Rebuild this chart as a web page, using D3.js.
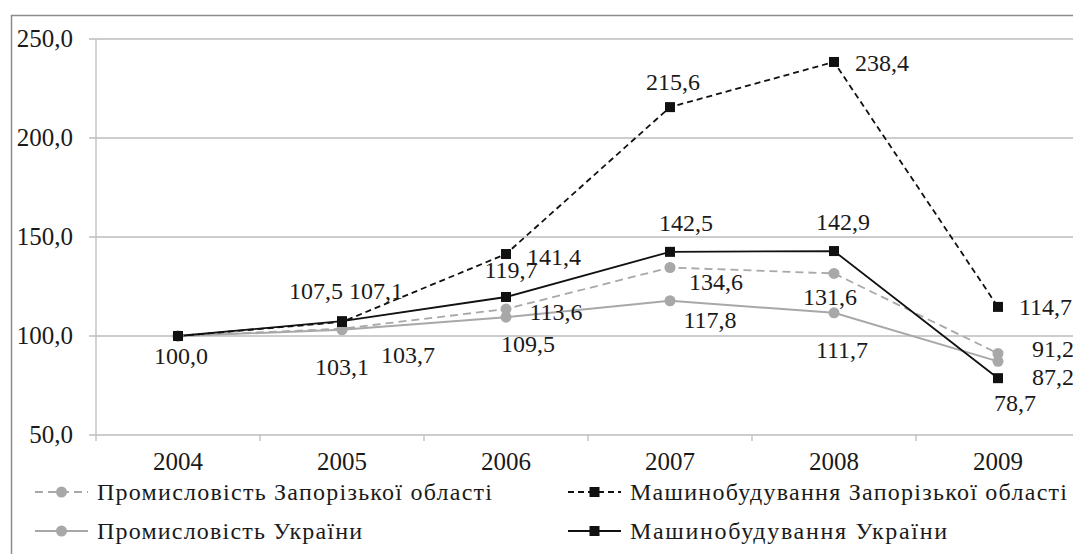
<!DOCTYPE html>
<html><head><meta charset="utf-8">
<script src="https://cdn.jsdelivr.net/npm/d3@7"></script>
</head>
<body style="margin:0"><svg id="c" width="1073" height="554" style="font-family:'Liberation Serif','Tinos','Times New Roman','Times'"></svg>
<script>
const years = ["2004","2005","2006","2007","2008","2009"];
const yTicks = [50,100,150,200,250];
const seriesNames = ["Промисловість Запорізької області","Машинобудування Запорізької області","Промисловість України","Машинобудування України"];
const indZap = [100.0,103.7,113.6,134.6,131.6,91.2];
const machZap = [100.0,107.1,141.4,215.6,238.4,114.7];
const indUkr = [100.0,103.1,109.5,117.8,111.7,87.2];
const machUkr = [100.0,107.5,119.7,142.5,142.9,78.7];

// label offsets (styling) [dx, dy, anchor]
const offIndZap = [null,[66,26,"middle"],[50,3,"middle"],[46,15,"middle"],[-4,24,"middle"],[34,-4,"start"]];
const offMachZap = [null,[34,-31,"middle"],[21,3,"start"],[3,-25,"middle"],[21,1,"start"],[21,0,"start"]];
const offIndUkr = [[3,20,"middle"],[0,37,"middle"],[22,27,"middle"],[40,19,"middle"],[8,37,"middle"],[34,16,"start"]];
const offMachUkr = [null,[-26,-30,"middle"],[5,-27,"middle"],[16,-29,"middle"],[9,-29,"middle"],[17,25,"middle"]];

const FONTS = ["Liberation Serif","Tinos","Times New Roman","Times"];
const svg = d3.select("#c");
const left = 96, bandW = 164;
const x = d3.scaleBand().domain(years).range([left, left + bandW*years.length]).padding(0);
const cx = d => x(d) + x.bandwidth()/2;
const y = d3.scaleLinear().domain([50,250]).range([435,39]);
const fmt = v => d3.format(".1f")(v).replace(".",",");

function txt(xp, yp, s, anchor, size){
  const sz = size||24;
  return svg.append("text").attr("x",xp).attr("y",yp + sz*0.33)
    .style("font-family", FONTS.map(f=>"'"+f+"'").join(","))
    .style("font-size", sz+"px")
    .attr("text-anchor",anchor||"start")
    .attr("fill","#1a1a1a")
    .text(s);
}

// outer frame
svg.append("line").attr("x1",11).attr("x2",1073).attr("y1",15.5).attr("y2",15.5).attr("stroke","#8c8c8c").attr("stroke-width",1.5);
svg.append("line").attr("x1",11.5).attr("x2",11.5).attr("y1",15).attr("y2",554).attr("stroke","#8c8c8c").attr("stroke-width",1.5);

// gridlines + y labels
yTicks.forEach(t=>{
  svg.append("line").attr("x1",left-7).attr("x2",1073).attr("y1",y(t)).attr("y2",y(t)).attr("stroke","#bdbdbd").attr("stroke-width",1.3);
  txt(73, y(t), fmt(t), "end", 25);
});
svg.append("line").attr("x1",left).attr("x2",left).attr("y1",y(250)).attr("y2",y(50)).attr("stroke","#bdbdbd").attr("stroke-width",1.3);
years.forEach(yr=>{
  svg.append("line").attr("x1",x(yr)).attr("x2",x(yr)).attr("y1",y(50)).attr("y2",y(50)+6).attr("stroke","#bdbdbd").attr("stroke-width",1.3);
  txt(cx(yr), 462, yr, "middle", 25);
});

const line = d3.line().x((d,i)=>cx(years[i])).y(d=>y(d));
const styles = [
  {data:indZap, color:"#a8a8a8", dash:"8,5", width:1.8, marker:"circle", off:offIndZap},
  {data:indUkr, color:"#a8a8a8", dash:null, width:2, marker:"circle", off:offIndUkr},
  {data:machZap, color:"#111", dash:"6,4", width:1.8, marker:"square", off:offMachZap},
  {data:machUkr, color:"#111", dash:null, width:1.8, marker:"square", off:offMachUkr},
];

function drawMarker(type, px, py, color){
  if(type==="circle") svg.append("circle").attr("cx",px).attr("cy",py).attr("r",5.5).attr("fill",color);
  else svg.append("rect").attr("x",px-5).attr("y",py-5).attr("width",10).attr("height",10).attr("fill",color);
}

styles.forEach(s=>{
  const p = svg.append("path").attr("d",line(s.data)).attr("fill","none").attr("stroke",s.color).attr("stroke-width",s.width);
  if(s.dash) p.attr("stroke-dasharray",s.dash);
});
styles.forEach(s=>s.data.forEach((v,i)=>drawMarker(s.marker,cx(years[i]),y(v),s.color)));
styles.forEach(s=>s.data.forEach((v,i)=>{
  const o = s.off[i]; if(!o) return;
  txt(cx(years[i])+o[0], y(v)+o[1], fmt(v), o[2], 24);
}));

// legend
const legendItems = [
  {name:seriesNames[0], s:styles[0], lx:35, ly:492, w:395},
  {name:seriesNames[1], s:styles[2], lx:568, ly:492, w:437},
  {name:seriesNames[2], s:styles[1], lx:35, ly:531, w:265},
  {name:seriesNames[3], s:styles[3], lx:568, ly:531, w:317},
];
legendItems.forEach(it=>{
  const l = svg.append("line").attr("x1",it.lx).attr("x2",it.lx+53).attr("y1",it.ly).attr("y2",it.ly).attr("stroke",it.s.color).attr("stroke-width",it.s.width);
  if(it.s.dash) l.attr("stroke-dasharray",it.s.dash);
  drawMarker(it.s.marker,it.lx+26.5,it.ly,it.s.color);
  txt(it.lx+62, it.ly, it.name, "start", 24).attr("textLength",it.w).attr("lengthAdjust","spacing");
});
</script></body></html>
